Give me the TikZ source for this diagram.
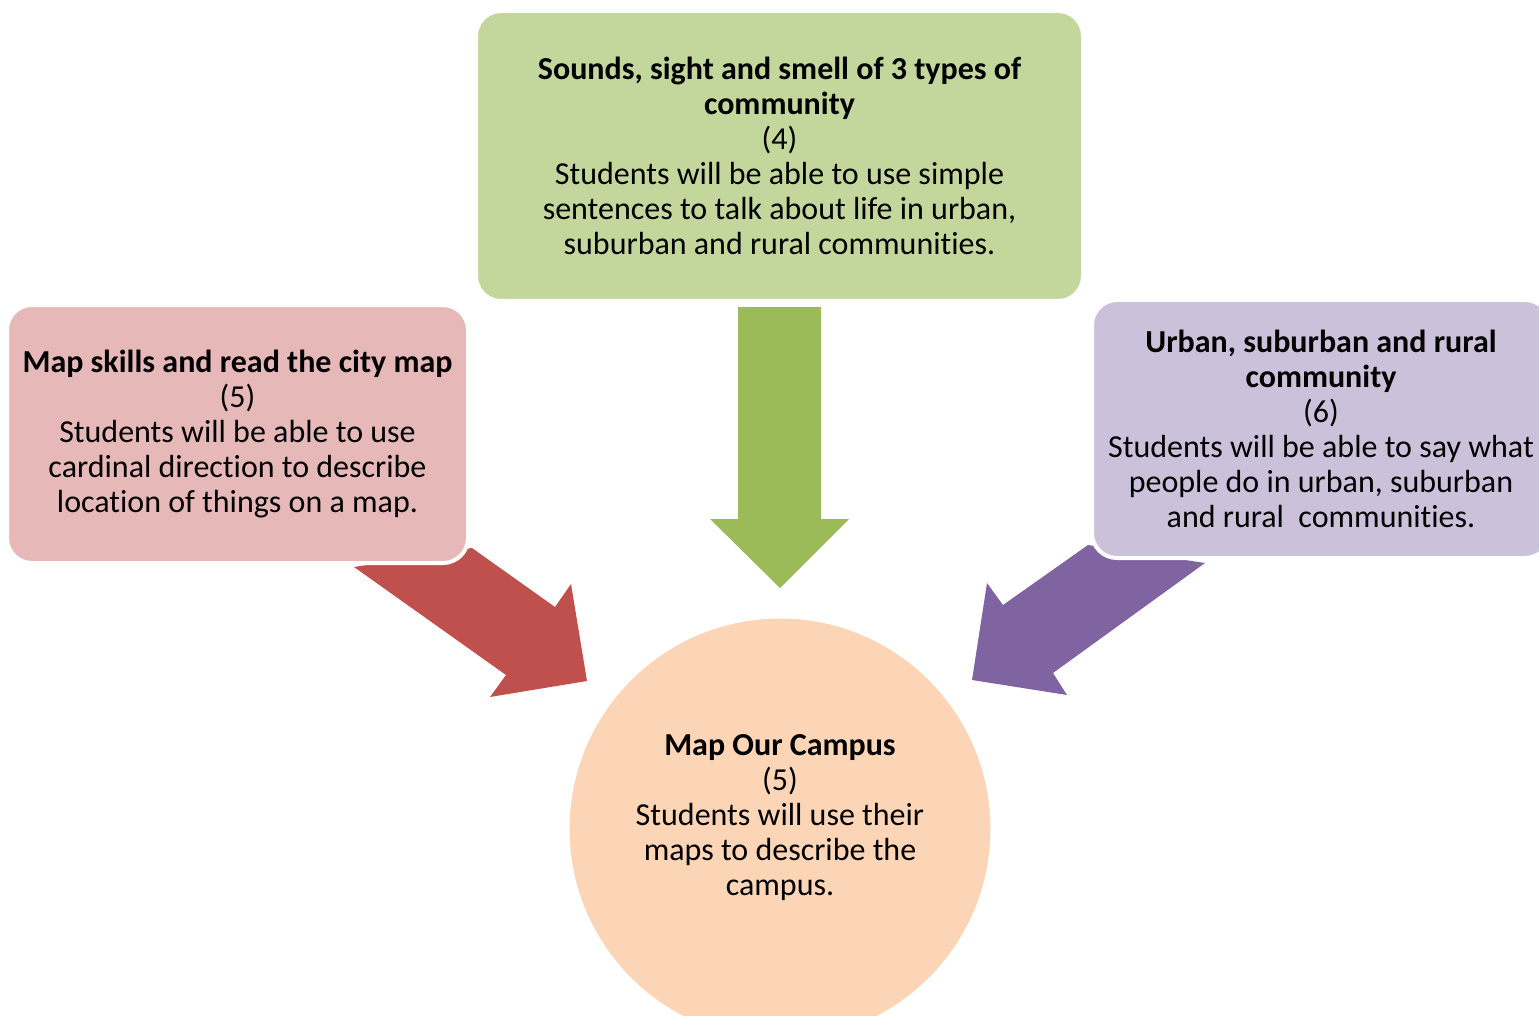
\documentclass[tikz,border=0pt]{standalone}
\usepackage{fontspec}
\setmainfont[Ligatures=NoCommon]{Carlito}
\definecolor{boxgreen}{HTML}{C3D69B}
\definecolor{boxpink}{HTML}{E6B9B8}
\definecolor{boxlilac}{HTML}{CCC1DA}
\definecolor{boxpeach}{HTML}{FBD5B5}
\definecolor{arrgreen}{HTML}{9BBB59}
\definecolor{arrred}{HTML}{C0504D}
\definecolor{arrlilac}{HTML}{8064A2}
\begin{document}
\begin{tikzpicture}[x=1pt, y=-1pt,
    unitbox/.style={rounded corners=25pt, draw=white, line width=4pt,
      align=center, inner sep=0pt, font=\fontsize{32}{35}\selectfont},
    goal/.style={circle, draw=white, line width=3pt, minimum size=424pt, inner sep=0pt},
    goaltext/.style={align=center, inner sep=0pt, font=\fontsize{32}{35}\selectfont}]
    \useasboundingbox (0,0) rectangle (1539,1016);
    % Block arrows
    \fill[arrgreen] (738,307) -- (821,307) -- (821,519) -- (849,519) -- (780,588)
        -- (710,519) -- (738,519) -- cycle;
    \fill[arrred] (354,567) -- (472,548) -- (555,607) -- (571,584) -- (587,681)
        -- (490,697) -- (506,675) -- cycle;
    \fill[arrlilac] (1205,563) -- (1088,545) -- (1003,605) -- (987,583) -- (972,680)
        -- (1067,695) -- (1053,673) -- cycle;
    % Units
    \node[unitbox, fill=boxgreen, minimum width=607pt, minimum height=290pt] (sounds) at (779.5,156)
        {\textbf{Sounds, sight and smell of 3 types of}\\ \textbf{community}\\ (4)\\
         Students will be able to use simple\\ sentences to talk about life in urban,\\
         suburban and rural communities.};
    \node[unitbox, fill=boxpink, minimum width=461pt, minimum height=258pt] (mapskills) at (237.5,434)
        {\textbf{Map skills and read the city map}\\ (5)\\ Students will be able to use\\
         cardinal direction to describe\\ location of things on a map.};
    \node[unitbox, fill=boxlilac, minimum width=458pt, minimum height=258pt] (urban) at (1321,429)
        {\textbf{Urban, suburban and rural}\\ \textbf{community}\\ (6)\\
         Students will be able to say what\\ people do in urban, suburban\\
         and rural\ \ communities.};
    % Final unit
    \node[goal, fill=boxpeach] (campus) at (780,829) {};
    \node[goaltext] (campustext) at (780,818)
        {\textbf{Map Our Campus}\\ (5)\\ Students will use their\\ maps to describe the\\ campus.};
\end{tikzpicture}
\end{document}
